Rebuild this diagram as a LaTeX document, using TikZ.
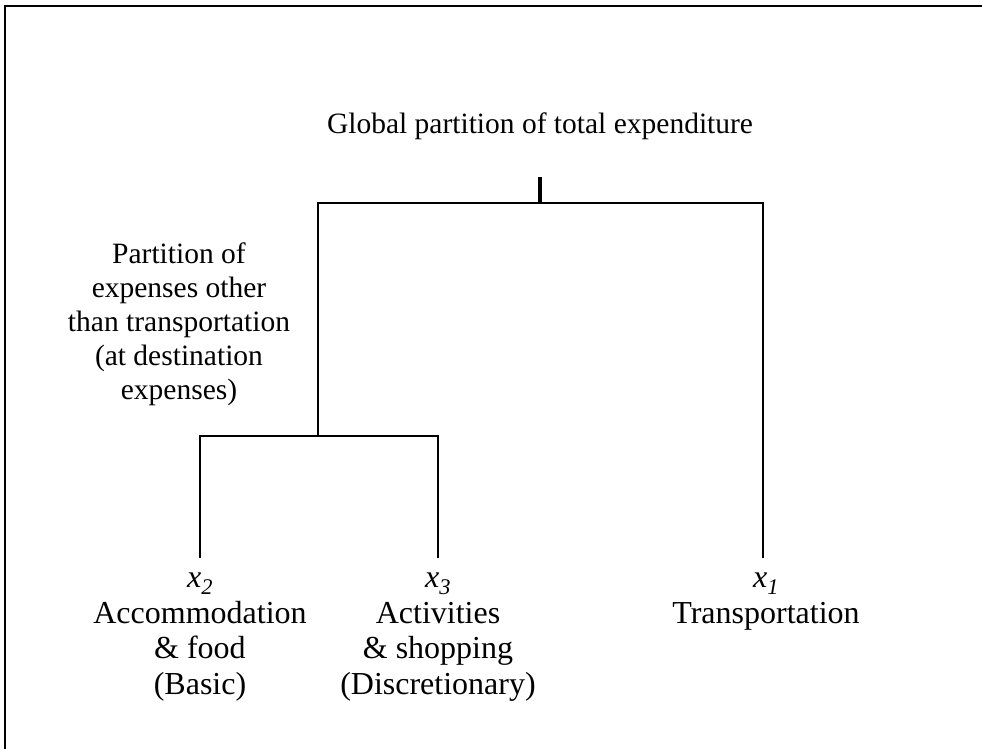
\documentclass[tikz,border=0pt]{standalone}
\usepackage{fontspec}
\setmainfont{Liberation Serif}
\usetikzlibrary{positioning}

\begin{document}
\begin{tikzpicture}[x=1pt,y=-1pt,
  node distance=15pt,
  txt/.style={align=center,inner sep=0pt,font=\fontsize{29.5pt}{34pt}\selectfont},
  leaf/.style={txt,font=\fontsize{32pt}{35.5pt}\selectfont},
  brk/.style={line width=2.4pt},
  stem/.style={line width=3.6pt}
]
\useasboundingbox (0,0) rectangle (982,749);
% frame, only its top and left edge show
\draw[line width=2.2pt] (5,749) -- (5,6) -- (982,6);

\node[txt] (glob) at (540,126) {Global partition of total expenditure};
\coordinate (top) at (540,177);
\coordinate (fork) at (540,203);
\coordinate (forkL) at (318,203);
\coordinate (forkR) at (763,203);
\coordinate (sub) at (318,436);
\coordinate (subL) at (200,436);
\coordinate (subR) at (438,436);
\coordinate (a2) at (200,558);
\coordinate (a3) at (438,558);
\coordinate (a1) at (763,558);

\node[txt] (other) at (179,324) {Partition of\\expenses other\\than transportation\\(at destination\\expenses)};
\node[leaf,below=of a2] (accom) {\textit{x\textsubscript{2}}\\Accommodation\\\& food\\(Basic)};
\node[leaf,below=of a3] (activ) {\textit{x\textsubscript{3}}\\Activities\\\& shopping\\(Discretionary)};
\node[leaf,below=of a1,xshift=3pt] (transp) {\textit{x\textsubscript{1}}\\Transportation};

\draw[stem] (top) -- (fork);
\draw[brk] (a1) -- (forkR) -- (forkL) -- (sub);
\draw[brk] (a2) -- (subL) -- (subR) -- (a3);
\end{tikzpicture}
\end{document}
